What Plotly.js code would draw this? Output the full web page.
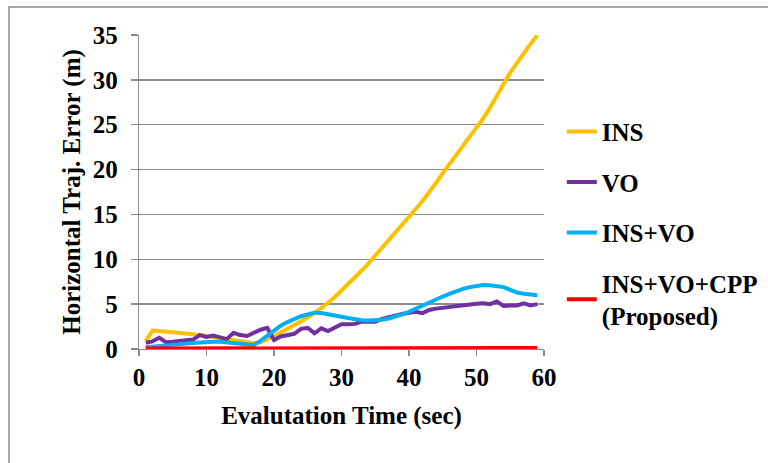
<!DOCTYPE html>
<html>
<head>
<meta charset="utf-8">
<script src="https://cdn.plot.ly/plotly-3.0.1.min.js"></script>
<style>
  html, body { margin: 0; padding: 0; background: #ffffff; }
  #chart { width: 768px; height: 463px; }
</style>
</head>
<body>
<div id="chart"></div>
<script>
// Evaluation time (sec)
const time = [1,2,3,4,5,6,7,8,9,10,11,12,13,14,15,16,17,18,19,20,
  21,22,23,24,25,26,27,28,29,30,31,32,33,34,35,36,37,38,39,40,
  41,42,43,44,45,46,47,48,49,50,51,52,53,54,55,56,57,58,59];

const seriesNames = ["INS", "VO", "INS+VO", "INS+VO+CPP<br>(Proposed)"];

const insErr = [0.9,2.05,2.0,1.95,1.9,1.85,1.75,1.65,1.55,1.45,1.3,1.2,1.05,0.95,0.85,0.75,0.65,0.75,1.05,1.45,
  1.85,2.25,2.65,3.05,3.5,4.0,4.55,5.15,5.8,6.5,7.2,7.95,8.75,9.55,10.4,11.2,12.05,12.9,13.8,14.7,
  15.6,16.5,17.45,18.5,19.6,20.6,21.6,22.6,23.6,24.6,25.7,26.9,28.1,29.5,30.8,31.9,33.0,34.0,35.0];

const voErr = [0.7,0.85,1.25,0.75,0.8,0.9,1.0,1.05,1.55,1.35,1.5,1.3,1.1,1.8,1.55,1.45,1.85,2.15,2.35,1.0,
  1.4,1.6,1.7,2.25,2.35,1.75,2.3,2.0,2.35,2.75,2.75,2.8,3.05,3.05,3.05,3.35,3.55,3.8,3.9,4.05,
  4.15,4.0,4.35,4.5,4.6,4.65,4.85,4.9,5.0,5.05,5.1,5.0,5.3,4.8,4.85,4.85,5.1,4.85,5.0];

const insVoErr = [0.2,0.25,0.3,0.38,0.45,0.53,0.6,0.68,0.75,0.8,0.82,0.8,0.73,0.62,0.5,0.45,0.45,0.9,1.5,2.1,
  2.6,3.0,3.35,3.65,3.85,4.05,4.0,3.9,3.75,3.6,3.45,3.3,3.2,3.18,3.2,3.25,3.4,3.6,3.85,4.15,
  4.5,4.9,5.2,5.5,5.85,6.15,6.45,6.7,6.9,7.05,7.12,7.1,7.0,6.9,6.6,6.3,6.15,6.05,6.0];

const cppErr = [0.05,0.05,0.05,0.05,0.05,0.05,0.06,0.06,0.06,0.06,0.06,0.06,0.06,0.06,0.06,0.06,0.06,0.06,0.05,0.04,
  0.04,0.04,0.04,0.04,0.05,0.05,0.05,0.05,0.06,0.06,0.06,0.06,0.07,0.07,0.07,0.08,0.08,0.09,0.1,0.11,
  0.12,0.13,0.13,0.12,0.1,0.08,0.07,0.07,0.07,0.07,0.07,0.08,0.08,0.09,0.09,0.1,0.1,0.11,0.12];

const xTicks = [0,10,20,30,40,50,60];
const yTicks = [0,5,10,15,20,25,30,35];

const colors = ["#FFC000", "#7030A0", "#00B0F0", "#FF0000"];
const values = [insErr, voErr, insVoErr, cppErr];

const FONT = "Liberation Serif";
const txtFont = { family: FONT, size: 25, color: "#000000", weight: "bold" };

const traces = values.map((v, i) => ({
  x: time,
  y: v,
  type: "scatter",
  mode: "lines",
  name: seriesNames[i],
  legendgroup: "g" + i,
  line: { color: colors[i], width: 4 },
  hoverinfo: "skip"
}));

const layout = {
  width: 768,
  height: 463,
  margin: { l: 139, r: 224, t: 35, b: 114, autoexpand: false },
  paper_bgcolor: "#ffffff",
  plot_bgcolor: "#ffffff",
  font: txtFont,
  showlegend: true,
  legend: {
    x: 1.044, y: 0.765, xanchor: "left", yanchor: "top",
    traceorder: "grouped", tracegroupgap: 15,
    font: txtFont,
    bgcolor: "rgba(0,0,0,0)", borderwidth: 0
  },
  xaxis: {
    range: [0, 60],
    tickvals: xTicks,
    ticktext: xTicks.map(String),
    showgrid: false,
    zeroline: false,
    showline: true,
    linecolor: "#8c8c8c",
    linewidth: 1.3,
    ticks: "outside",
    ticklen: 6,
    tickwidth: 1.3,
    tickcolor: "#8c8c8c",
    tickfont: txtFont,
    title: { text: "Evalutation Time (sec)", font: txtFont, standoff: 16 },
    fixedrange: true
  },
  yaxis: {
    range: [0, 35],
    tickvals: yTicks,
    ticktext: yTicks.map(String),
    showgrid: true,
    gridcolor: "#8c8c8c",
    gridwidth: 1.3,
    zeroline: false,
    showline: true,
    linecolor: "#8c8c8c",
    linewidth: 1.3,
    ticks: "outside",
    ticklen: 7,
    tickwidth: 1.3,
    tickcolor: "#8c8c8c",
    ticklabelstandoff: 8,
    tickfont: txtFont,
    title: { text: "Horizontal Traj. Error (m)", font: txtFont, standoff: 5 },
    fixedrange: true
  },
  shapes: [{
    type: "rect", xref: "paper", yref: "paper",
    x0: -0.321, x1: 1.7, y0: -0.5, y1: 1.089,
    line: { color: "#8c8c8c", width: 1.5 },
    fillcolor: "rgba(0,0,0,0)",
    layer: "below"
  }]
};

Plotly.newPlot("chart", traces, layout, { displayModeBar: false, staticPlot: true });
</script>
</body>
</html>
